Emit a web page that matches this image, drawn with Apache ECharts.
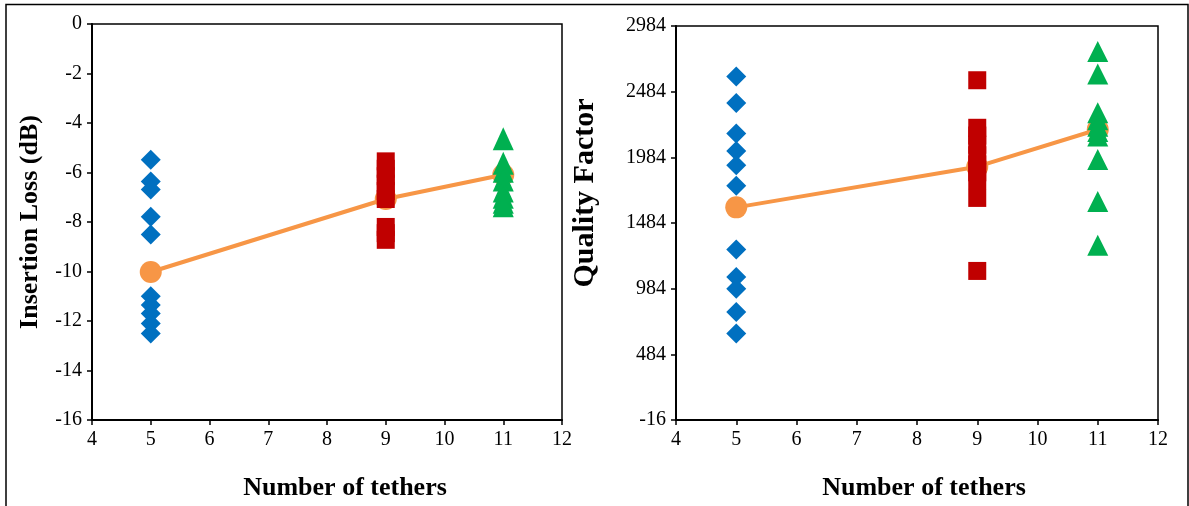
<!DOCTYPE html>
<html><head><meta charset="utf-8">
<script src="https://cdn.jsdelivr.net/npm/echarts@6/dist/echarts.min.js"></script>
<style>html,body{margin:0;padding:0;background:#fff}#c{width:1189px;height:506px}</style>
</head><body><div id="c"></div>
<script>
// Left chart: Insertion Loss (dB)
const il5 = [-5.48, -6.36, -6.69, -7.79, -8.5, -11.0, -11.35, -11.7, -12.1, -12.5];
const il9 = [-5.55, -5.85, -6.15, -6.45, -6.75, -7.07, -8.2, -8.45, -8.72];
const il11 = [-4.64, -5.63, -5.95, -6.3, -6.75, -7.0, -7.2, -7.34];
const ilAvgX = [5, 9, 11];
const ilAvg = [-10.02, -7.07, -6.09];
// Right chart: Quality Factor
const q5 = [2600, 2398, 2166, 2032, 1923, 1767, 1282, 1072, 984, 807, 643];
const q9 = [2571, 2209, 2150, 2080, 2000, 1930, 1870, 1810, 1675, 1119];
const q11 = [2789, 2618, 2323, 2270, 2220, 2180, 2146, 1967, 1648, 1315];
const qAvg = [1603, 1913, 2196];
const xTicks = {min: 4, max: 12, interval: 1};
const ilTicks = {min: -16, max: 0, interval: 2};
const qTicks = {min: -16, max: 2984, interval: 500};

const FONT = '"Liberation Serif", "Times New Roman", serif';
const BLUE = '#0070C0', RED = '#C00000', GREEN = '#00B050', ORANGE = '#F79646';
const pts = (x, arr) => arr.map(v => [x, v]);
const plain = v => String(v);

function xAxis(gi, pad) {
  return {
    gridIndex: gi, type: 'value', min: xTicks.min, max: xTicks.max, interval: xTicks.interval,
    name: 'Number of tethers', nameLocation: 'middle', nameGap: 55,
    nameTextStyle: {fontFamily: FONT, fontSize: 26, fontWeight: 'bold', color: '#000', padding: pad},
    axisLine: {show: true, onZero: false, lineStyle: {color: '#000', width: 2}},
    axisTick: {show: true, inside: false, length: 5, lineStyle: {color: '#000', width: 1.5}},
    axisLabel: {fontFamily: FONT, fontSize: 20, color: '#000', margin: 10, formatter: plain},
    splitLine: {show: false}
  };
}
function yAxis(gi, t, name, gap, size, pad) {
  return {
    gridIndex: gi, type: 'value', min: t.min, max: t.max, interval: t.interval,
    name: name, nameLocation: 'middle', nameGap: gap,
    nameTextStyle: {fontFamily: FONT, fontSize: size, fontWeight: 'bold', color: '#000', padding: pad},
    axisLine: {show: true, onZero: false, lineStyle: {color: '#000', width: 2}},
    axisTick: {show: true, inside: false, length: 5, lineStyle: {color: '#000', width: 1.5}},
    axisLabel: {fontFamily: FONT, fontSize: 20, color: '#000', margin: 10, formatter: plain},
    splitLine: {show: false}
  };
}
function scatter(xi, data, symbol, size, color) {
  return {type: 'scatter', xAxisIndex: xi, yAxisIndex: xi, data: data, symbol: symbol,
    symbolSize: size, itemStyle: {color: color, opacity: 1}, z: 3, silent: true};
}
function avgLine(xi, ys) {
  return {type: 'line', xAxisIndex: xi, yAxisIndex: xi, data: ilAvgX.map((x, i) => [x, ys[i]]),
    symbol: 'circle', symbolSize: 22, showSymbol: true,
    lineStyle: {color: ORANGE, width: 4}, itemStyle: {color: ORANGE}, z: 2, silent: true};
}

const chart = echarts.init(document.getElementById('c'), null, {renderer: 'canvas'});
chart.setOption({
  animation: false,
  backgroundColor: '#fff',
  graphic: [{type: 'rect', shape: {x: 6, y: 4.5, width: 1182, height: 540},
    style: {fill: 'none', stroke: '#000', lineWidth: 1.5}, z: 100}],
  grid: [
    {left: 92, top: 24, width: 470, height: 397, show: true, borderColor: '#000', borderWidth: 1.5, backgroundColor: 'transparent'},
    {left: 676, top: 26, width: 482, height: 396, show: true, borderColor: '#000', borderWidth: 1.5, backgroundColor: 'transparent'}
  ],
  xAxis: [xAxis(0, [0, 0, 0, 36]), xAxis(1, [0, 0, 0, 14])],
  yAxis: [yAxis(0, ilTicks, 'Insertion Loss (dB)', 49, 26, 0),
          yAxis(1, qTicks, 'Quality Factor', 76, 30, [0, 0, 0, 60])],
  series: [
    avgLine(0, ilAvg),
    scatter(0, pts(5, il5), 'diamond', 20, BLUE),
    scatter(0, pts(9, il9), 'rect', 18, RED),
    scatter(0, pts(11, il11), 'triangle', [21, 23], GREEN),
    avgLine(1, qAvg),
    scatter(1, pts(5, q5), 'diamond', 20, BLUE),
    scatter(1, pts(9, q9), 'rect', 18, RED),
    scatter(1, pts(11, q11), 'triangle', [21, 21], GREEN)
  ]
});
</script></body></html>
